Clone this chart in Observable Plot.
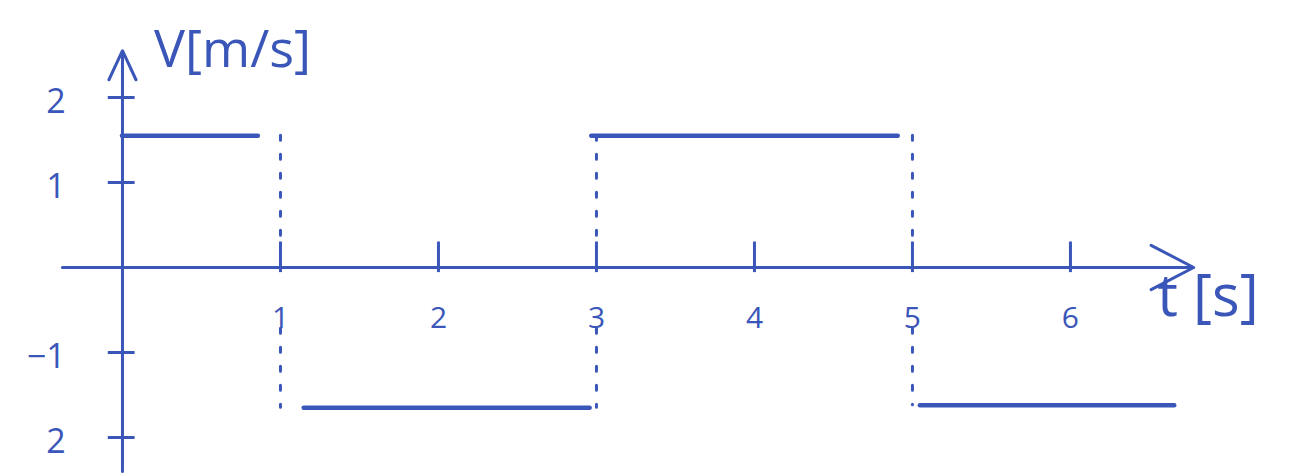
<!DOCTYPE html>
<html>
<head>
<meta charset="utf-8">
<script src="https://cdn.jsdelivr.net/npm/d3@7"></script>
<script src="https://cdn.jsdelivr.net/npm/@observablehq/plot@0.6"></script>
<style>
  html, body { margin: 0; padding: 0; background: #ffffff; }
  #chart svg { display: block; }
</style>
</head>
<body>
<div id="chart"></div>
<script>
// --- data ---
const tTicks = [1, 2, 3, 4, 5, 6];
const tTickLabels = ["1", "2", "3", "4", "5", "6"];
const vTicks = [2, 1, -1, -2];
const vTickLabels = ["2", "1", "−1", "2"];
const segStart = [0, 1.15, 2.97, 5.05];
const segEnd = [0.86, 2.96, 4.91, 6.66];
const segV = [1.55, -1.65, 1.55, -1.62];
const jumpT = [1, 3, 5];
const jumpFrom = [1.55, -1.65, 1.55];
const jumpTo = [-1.65, 1.55, -1.62];
const xTitle = "t [s]";
const yTitle = "V[m/s]";

const ink = "#3a56b8";
const font = "Open Sans, Lato, sans-serif";

const segments = segStart.map((s, i) => ({x1: s, x2: segEnd[i], y: segV[i]}));
const jumps = jumpT.map((t, i) => ({
  t,
  hi: Math.max(jumpFrom[i], jumpTo[i]),
  lo: Math.min(jumpFrom[i], jumpTo[i])
}));
const xt = tTicks.map((t, i) => ({t, label: tTickLabels[i]}));
const yt = vTicks.map((v, i) => ({v, label: vTickLabels[i]}));

const chart = Plot.plot({
  width: 1315,
  height: 474,
  margin: 0,
  x: {domain: [-0.772, 7.551], axis: null},
  y: {domain: [-2.435, 3.141], axis: null},
  style: {background: "#ffffff", fontFamily: font},
  marks: [
    // axes
    Plot.arrow([{x1: -0.38, x2: 6.78, y: 0}], {
      x1: "x1", x2: "x2", y1: "y", y2: "y",
      stroke: ink, strokeWidth: 3, headLength: 24, headAngle: 55
    }),
    Plot.arrow([{x: 0, y1: -2.4, y2: 2.55}], {
      x1: "x", x2: "x", y1: "y1", y2: "y2",
      stroke: ink, strokeWidth: 3, headLength: 16, headAngle: 50
    }),
    // x ticks
    Plot.ruleX(xt, {x: "t", y1: -0.06, y2: 0.3, stroke: ink, strokeWidth: 3}),
    // y ticks
    Plot.ruleY(yt, {y: "v", x1: -0.09, x2: 0.08, stroke: ink, strokeWidth: 3}),
    // dashed jump lines (above and below the tick labels)
    Plot.ruleX(jumps, {x: "t", y1: "hi", y2: 0.35, stroke: ink, strokeWidth: 3, strokeDasharray: "5,14", strokeLinecap: "round"}),
    Plot.ruleX(jumps, {x: "t", y1: -0.72, y2: "lo", stroke: ink, strokeWidth: 3, strokeDasharray: "5,14", strokeLinecap: "round"}),
    // the velocity segments
    Plot.ruleY(segments, {x1: "x1", x2: "x2", y: "y", stroke: ink, strokeWidth: 4.5, strokeLinecap: "round"}),
    // tick labels
    Plot.text(xt, {x: "t", y: -0.6, text: "label", fill: ink, fontSize: 30}),
    Plot.text(yt, {x: -0.36, y: d => d.v - 0.05, text: "label", fill: ink, fontSize: 34, textAnchor: "end"}),
    // axis titles
    Plot.text([yTitle], {x: 0.2, y: 2.55, text: d => d, fill: ink, fontSize: 52, textAnchor: "start"}),
    Plot.text([xTitle], {x: 6.55, y: -0.35, text: d => d, fill: ink, fontSize: 58, textAnchor: "start"})
  ]
});
document.getElementById("chart").appendChild(chart);
</script>
</body>
</html>
